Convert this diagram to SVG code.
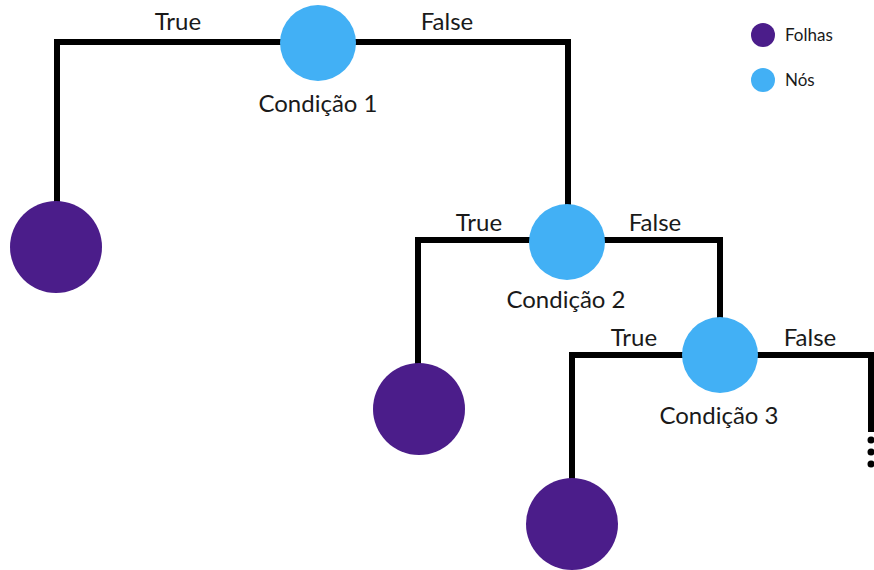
<svg xmlns="http://www.w3.org/2000/svg" width="874" height="570" viewBox="0 0 874 570">
<style>
.edge{fill:none;stroke:#000;stroke-width:6;stroke-linejoin:miter;stroke-linecap:butt}
.node{fill:#42B0F5}
.leaf{fill:#4B1D8A}
.lbl{font-family:Lato,"Open Sans","Liberation Sans",sans-serif;font-size:24px;fill:#1a1a1a;text-anchor:middle}
.leg{font-family:Lato,"Open Sans","Liberation Sans",sans-serif;font-size:17px;fill:#1a1a1a}
</style>
<rect width="874" height="570" fill="#fff"/>
<g id="connectors">
<path class="edge" d="M57,202 V42 H568 V206"/>
<path class="edge" d="M418,366 V240 H720 V319"/>
<path class="edge" d="M572,480 V355 H871 V432"/>
<circle cx="871" cy="440" r="3.5" fill="#000"/>
<circle cx="871" cy="452" r="3.5" fill="#000"/>
<circle cx="871" cy="464" r="3.5" fill="#000"/>
<text class="lbl" x="178" y="30">True</text>
<text class="lbl" x="447" y="30">False</text>
<text class="lbl" x="479" y="231">True</text>
<text class="lbl" x="655" y="231">False</text>
<text class="lbl" x="634" y="346">True</text>
<text class="lbl" x="810" y="346">False</text>
</g>
<g id="cond1">
<circle class="node" cx="318" cy="43" r="38"/>
<text class="lbl" x="318" y="112">Condição 1</text>
</g>
<g id="cond2">
<circle class="node" cx="567" cy="242" r="38"/>
<text class="lbl" x="566" y="308">Condição 2</text>
</g>
<g id="cond3">
<circle class="node" cx="720" cy="355" r="38"/>
<text class="lbl" x="719" y="424">Condição 3</text>
</g>
<g id="leaf1"><circle class="leaf" cx="56" cy="247" r="46"/></g>
<g id="leaf2"><circle class="leaf" cx="419" cy="409" r="46"/></g>
<g id="leaf3"><circle class="leaf" cx="572" cy="524" r="46"/></g>
<g id="legend">
<circle class="leaf" cx="763" cy="35" r="12"/>
<text class="leg" x="785" y="41">Folhas</text>
<circle class="node" cx="763" cy="80" r="12"/>
<text class="leg" x="785" y="86">Nós</text>
</g>
</svg>
